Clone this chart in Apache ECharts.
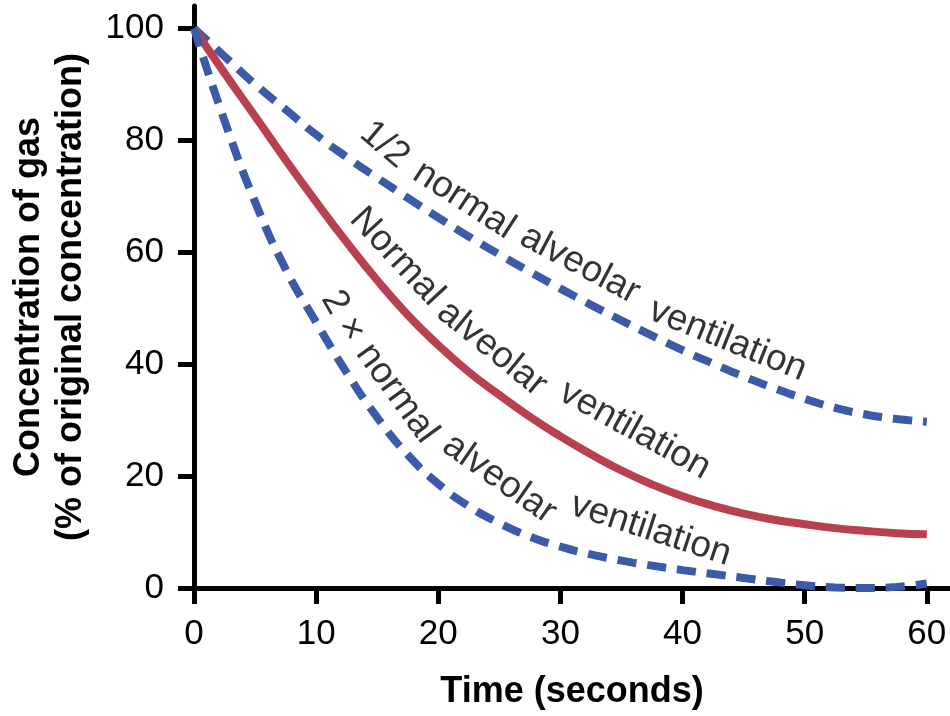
<!DOCTYPE html>
<html>
<head>
<meta charset="utf-8">
<script src="https://cdn.jsdelivr.net/npm/echarts@6/dist/echarts.min.js"></script>
<style>
  html, body { margin: 0; padding: 0; background: #fff; }
  #chart { width: 950px; height: 716px; }
</style>
</head>
<body>
<div id="chart"></div>
<script>
// time in seconds, and % of original concentration for each ventilation rate
const timeSec = [0, 2.5, 5, 7.5, 10, 12.5, 15, 17.5, 20, 22.5, 25, 27.5, 30,
  32.5, 35, 37.5, 40, 42.5, 45, 47.5, 50, 52.5, 55, 57.5, 60];
const normalVent = [100, 92, 84.3, 76.5, 69, 61.8, 55, 48.8, 43.4, 38.6, 34.5, 30.6, 27.1,
  23.9, 21, 18.5, 16.4, 14.7, 13.3, 12.2, 11.4, 10.7, 10.2, 9.8, 9.6];
const halfVent = [100, 95, 90, 85.5, 81, 77, 73.3, 69.7, 66.2, 62.8, 59.6, 56.5, 53.5,
  50.6, 47.8, 45.1, 42.5, 40.1, 37.8, 35.7, 33.8, 32.2, 31, 30.2, 29.7];
const doubleVent = [100, 83.5, 69, 57, 47.5, 38.5, 30.5, 23.8, 18.6, 14.6, 11.6, 9.2, 7.4,
  6, 4.9, 4, 3.2, 2.5, 1.8, 1.1, 0.5, 0.1, 0, 0.2, 0.8];

const xTicks = [0, 10, 20, 30, 40, 50, 60];
const yTicks = [0, 20, 40, 60, 80, 100];

// curve captions, word by word: [text, time, value, angle]
const halfWords = [["1/2", 15.6, 79.2, -40], ["normal", 22.1, 69.3, -33],
  ["alveolar", 31.6, 57.8, -28], ["ventilation", 43.7, 44.3, -22]];
const normalWords = [["Normal", 16.6, 59.2, -47], ["alveolar", 24.4, 42.8, -39],
  ["ventilation", 36.1, 28.2, -29]];
const doubleWords = [["2 \u00d7", 12.2, 48.6, -60], ["normal", 16.6, 34.8, -54],
  ["alveolar", 25.0, 19.5, -35], ["ventilation", 37.4, 10.4, -18]];

const FONT = "Liberation Sans";
const pair = (ys) => timeSec.map((t, i) => [t, ys[i]]);

function captionSeries(words) {
  return {
    type: "scatter",
    symbolSize: 0,
    silent: true,
    z: 5,
    data: words.map((w) => ({
      name: w[0],
      value: [w[1], w[2]],
      label: { rotate: w[3] }
    })),
    label: {
      show: true,
      position: "inside",
      formatter: "{b}",
      fontFamily: FONT,
      fontSize: 37,
      color: "#000"
    }
  };
}

function curve(name, ys, color, dashed) {
  return {
    name: name,
    type: "line",
    data: pair(ys),
    smooth: 0.5,
    showSymbol: false,
    lineStyle: dashed
      ? { color: color, width: 8, type: [19, 11], cap: "butt" }
      : { color: color, width: 8 }
  };
}

const chart = echarts.init(document.getElementById("chart"), null, { renderer: "canvas" });

const option = {
  backgroundColor: "#fff",
  animation: false,
  grid: { left: 193, right: 0, top: 6, bottom: 128 },
  xAxis: {
    type: "value",
    min: 0,
    max: 61.9,
    name: "Time (seconds)",
    nameLocation: "middle",
    nameGap: 86,
    nameTextStyle: { fontFamily: FONT, fontWeight: "bold", fontSize: 36, color: "#000" },
    axisLine: { lineStyle: { color: "#000", width: 5 } },
    axisTick: { show: true, length: 16, customValues: xTicks,
      lineStyle: { color: "#000", width: 5 } },
    axisLabel: { customValues: xTicks, margin: 29, fontFamily: FONT, fontSize: 35, color: "#000" },
    splitLine: { show: false }
  },
  yAxis: {
    type: "value",
    min: 0,
    max: 104,
    name: "Concentration of gas\n(% of original concentration)",
    nameLocation: "middle",
    nameGap: 102,
    nameTextStyle: { fontFamily: FONT, fontWeight: "bold", fontSize: 36, lineHeight: 42, color: "#000" },
    axisLine: { lineStyle: { color: "#000", width: 5 } },
    axisTick: { show: true, length: 16, customValues: yTicks,
      lineStyle: { color: "#000", width: 5 } },
    axisLabel: { customValues: yTicks, margin: 30, fontFamily: FONT, fontSize: 35, color: "#000" },
    splitLine: { show: false }
  },
  series: [
    curve("1/2 normal alveolar ventilation", halfVent, "#3b5ba8", true),
    curve("Normal alveolar ventilation", normalVent, "#b8404f", false),
    curve("2 x normal alveolar ventilation", doubleVent, "#3b5ba8", true),
    captionSeries(halfWords),
    captionSeries(normalWords),
    captionSeries(doubleWords)
  ]
};

chart.setOption(option);
</script>
</body>
</html>
